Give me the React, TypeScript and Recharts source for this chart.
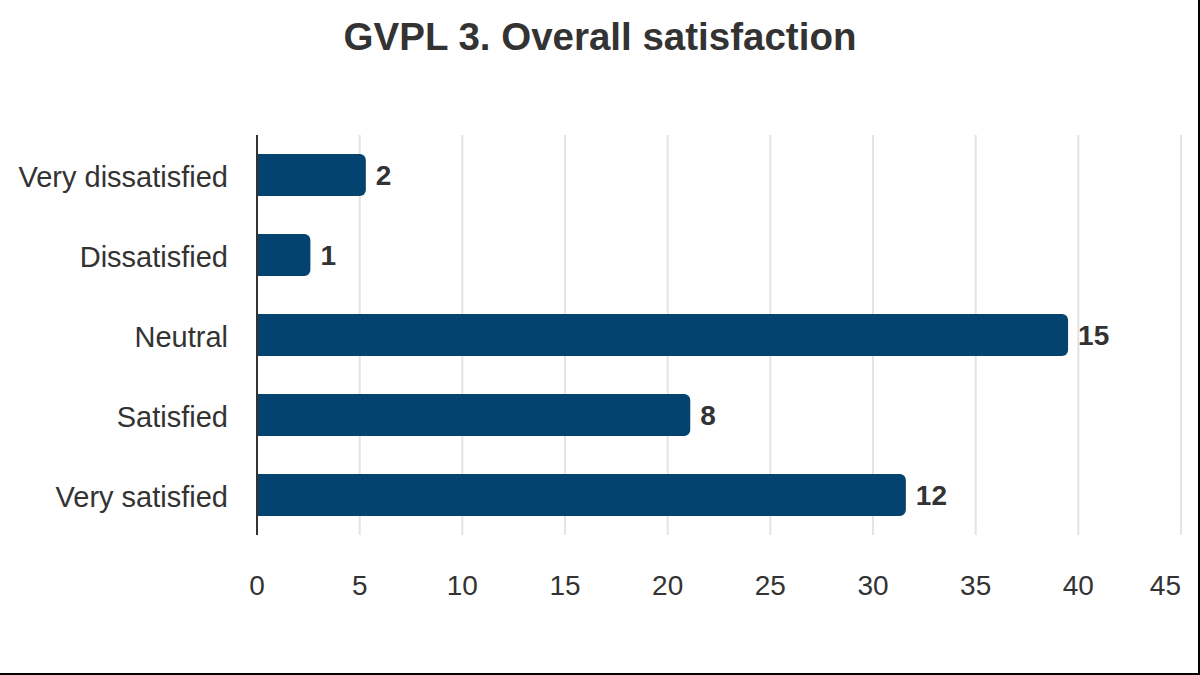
import { BarChart, Bar, XAxis, YAxis, CartesianGrid, LabelList } from 'recharts'

const categories = ['Very dissatisfied', 'Dissatisfied', 'Neutral', 'Satisfied', 'Very satisfied']
const percents = [5.3, 2.6, 39.5, 21.1, 31.6]
const counts = [2, 1, 15, 8, 12]
const xTicks = [0, 5, 10, 15, 20, 25, 30, 35, 40, 45]

const BAR = '#04426f', TXT = '#333333'
const FONT = '"Liberation Sans", Arial, Helvetica, sans-serif'

// last tick is pulled inside the plot like the original
const XTick = ({ x, y, payload, index }: any) => {
  const last = index === xTicks.length - 1
  return (
    <text x={x} y={y} dy="0.71em" textAnchor={last ? 'end' : 'middle'}
      fontSize={28} fill={TXT} fontFamily={FONT}>
      {payload.value}
    </text>
  )
}

export default function App() {
  const data = categories.map((name, i) => ({ name, pct: percents[i], count: counts[i] }))

  return (
    <div style={{
      position: 'fixed', left: 0, top: 0, width: 1200, height: 675, background: '#fff',
      boxSizing: 'border-box', borderRight: '2px solid #000', borderBottom: '2px solid #000',
      fontFamily: FONT,
    }}>
      <div style={{
        position: 'absolute', left: 0, top: 13, width: 1200, textAlign: 'center',
        fontSize: 38.5, fontWeight: 700, color: TXT, lineHeight: '48px',
      }}>
        GVPL 3. Overall satisfaction
      </div>
      <div style={{ position: 'absolute', left: 0, top: 0 }}>
        <BarChart width={1200} height={675} data={data} layout="vertical"
          margin={{ top: 135, right: 19, left: 0, bottom: 0 }}>
          <CartesianGrid horizontal={false} stroke="#e3e3e3" strokeWidth={2} />
          <XAxis type="number" domain={[0, 45]} ticks={xTicks} interval={0}
            axisLine={false} tickLine={false} tickSize={0} tickMargin={40} height={140}
            tick={<XTick />} />
          <YAxis type="category" dataKey="name" width={257}
            axisLine={{ stroke: TXT, strokeWidth: 2 }} tickLine={false} tickSize={0} tickMargin={29}
            tick={{ fontSize: 29, fill: TXT, fontFamily: FONT, dy: 2 }} />
          <Bar dataKey="pct" fill={BAR} barSize={42} radius={[0, 6, 6, 0]} isAnimationActive={false}>
            <LabelList dataKey="count" position="right" offset={10}
              style={{ fontSize: 28, fontWeight: 700, fill: TXT, fontFamily: FONT }} />
          </Bar>
        </BarChart>
      </div>
    </div>
  )
}
